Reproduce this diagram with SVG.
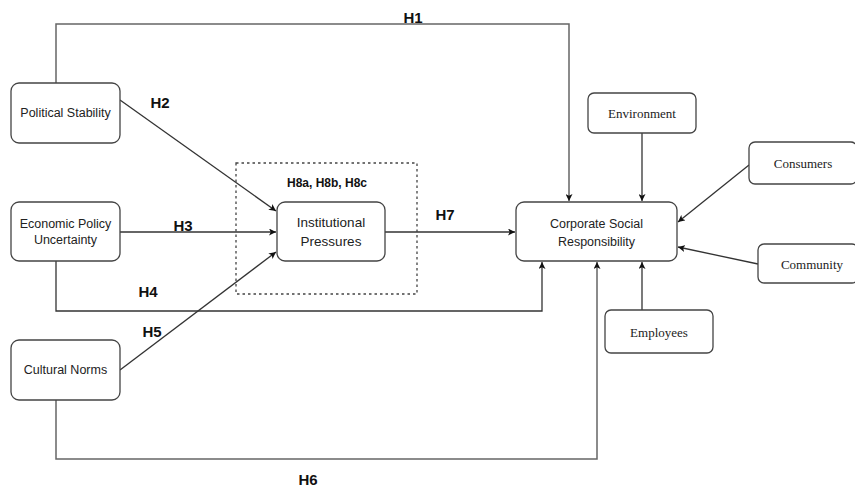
<svg xmlns="http://www.w3.org/2000/svg" width="855" height="492" viewBox="0 0 855 492">
<style>
.box{fill:#fff;stroke:#444;stroke-width:1.3}
.t{font-family:"Liberation Sans",Arial,sans-serif;font-size:12.5px;fill:#222;text-anchor:middle}
.s{font-family:"Liberation Serif","Times New Roman",serif;font-size:13px;fill:#222;text-anchor:middle}
.h{font-family:"Liberation Sans",Arial,sans-serif;font-size:15px;font-weight:bold;fill:#111;text-anchor:middle}
.c{fill:none;stroke:#333;stroke-width:1.3}
.g{fill:none;stroke:#666;stroke-width:1.5}
</style>
<defs>
<marker id="a" viewBox="0 0 10 10" refX="10" refY="5" markerWidth="7" markerHeight="7" markerUnits="userSpaceOnUse" orient="auto">
<path d="M0,0 L10,5 L0,10 L2.5,5 z" fill="#111"/>
</marker>
</defs>
<g id="connectors">
<polyline class="g" points="56,83 56,24 569,24 569,201" marker-end="url(#a)"/>
<line class="c" x1="120" y1="100" x2="276" y2="211" marker-end="url(#a)"/>
<line class="c" x1="120" y1="232" x2="276" y2="232" marker-end="url(#a)"/>
<polyline class="c" points="56,261 56,311 542,311 542,262" marker-end="url(#a)"/>
<line class="c" x1="120" y1="370" x2="276" y2="252" marker-end="url(#a)"/>
<polyline class="g" points="56,400 56,459 597,459 597,262" marker-end="url(#a)"/>
<line class="c" x1="385" y1="232" x2="515" y2="232" marker-end="url(#a)"/>
<line class="c" x1="642" y1="133" x2="642" y2="201" marker-end="url(#a)"/>
<line class="c" x1="749" y1="165" x2="678" y2="222" marker-end="url(#a)"/>
<line class="c" x1="758" y1="264" x2="678" y2="247" marker-end="url(#a)"/>
<line class="c" x1="642" y1="310" x2="642" y2="262" marker-end="url(#a)"/>
</g>
<g id="moderation-box">
<rect x="236" y="163" width="181" height="131" fill="none" stroke="#444" stroke-width="1.3" stroke-dasharray="2.5,3"/>
<text class="h" x="327" y="187" style="font-size:12px">H8a, H8b, H8c</text>
</g>
<g id="political-stability">
<rect class="box" x="11" y="83" width="109" height="60" rx="8"/>
<text class="t" x="65.5" y="117">Political Stability</text>
</g>
<g id="economic-policy-uncertainty">
<rect class="box" x="11" y="202" width="109" height="59" rx="8"/>
<text class="t" x="65.5" y="228">Economic Policy</text>
<text class="t" x="65.5" y="244">Uncertainty</text>
</g>
<g id="cultural-norms">
<rect class="box" x="11" y="340" width="109" height="60" rx="8"/>
<text class="t" x="65.5" y="374">Cultural Norms</text>
</g>
<g id="institutional-pressures">
<rect class="box" x="277" y="202" width="108" height="59" rx="8"/>
<text class="t" x="331" y="227" style="font-size:13.5px">Institutional</text>
<text class="t" x="331" y="246" style="font-size:13.5px">Pressures</text>
</g>
<g id="csr">
<rect class="box" x="516" y="202" width="161" height="59" rx="8"/>
<text class="t" x="596.5" y="228">Corporate Social</text>
<text class="t" x="596.5" y="246">Responsibility</text>
</g>
<g id="environment">
<rect class="box" x="588" y="93" width="108" height="40" rx="6"/>
<text class="s" x="642" y="118">Environment</text>
</g>
<g id="consumers">
<rect class="box" x="749" y="142" width="108" height="42" rx="6"/>
<text class="s" x="803" y="168">Consumers</text>
</g>
<g id="community">
<rect class="box" x="758" y="244" width="100" height="39" rx="6"/>
<text class="s" x="812" y="269">Community</text>
</g>
<g id="employees">
<rect class="box" x="605" y="310" width="108" height="43" rx="6"/>
<text class="s" x="659" y="337">Employees</text>
</g>
<g id="labels">
<text class="h" x="413" y="23">H1</text>
<text class="h" x="160" y="108">H2</text>
<text class="h" x="183" y="231">H3</text>
<text class="h" x="148" y="297">H4</text>
<text class="h" x="152" y="337">H5</text>
<text class="h" x="308" y="485">H6</text>
<text class="h" x="445" y="220">H7</text>
</g>
</svg>
